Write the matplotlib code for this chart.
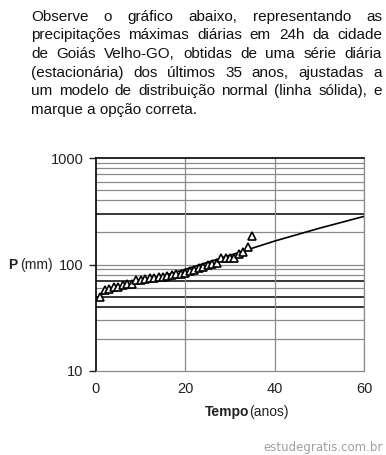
import matplotlib
matplotlib.use("Agg")
import matplotlib.pyplot as plt

plt.rcParams["font.family"] = ["Liberation Sans", "DejaVu Sans"]

# statement text (one entry per printed line)
text_lines = [
    "Observe o gráfico abaixo, representando as",
    "precipitações máximas diárias em 24h da cidade",
    "de Goiás Velho-GO, obtidas de uma série diária",
    "(estacionária) dos últimos 35 anos, ajustadas a",
    "um modelo de distribuição normal (linha sólida), e",
    "marque a opção correta.",
]

# observed maxima (triangles)
years = list(range(1, 36))
precip = [50, 58, 59, 61, 62, 64, 65, 66, 71, 72,
          73, 74, 75, 76, 77, 78, 80, 81, 82, 84,
          86, 89, 92, 95, 98, 101, 104, 114, 115, 115,
          116, 125, 132, 147, 185]

# fitted normal model (solid line)
fit_t = [1, 10, 20, 30, 40, 50, 60]
fit_p = [52, 68, 90, 122, 166, 219, 283]

y_ticks = [10, 100, 1000]
x_ticks = [0, 20, 40, 60]
grid_gray = [20, 30, 60, 80, 90, 100, 200, 400, 500, 600, 700, 800, 900]
grid_black = [40, 50, 70, 300]

W, H = 386, 455
fig = plt.figure(figsize=(W / 100, H / 100), dpi=100)
ax = fig.add_axes([96 / W, 1 - 371 / H, (364 - 96) / W, (371 - 158) / H])

ax.set_yscale("log")
ax.set_xlim(0, 60)
ax.set_ylim(10, 1000)

for v in grid_gray:
    ax.axhline(v, color="#8a8a8a", lw=0.9, zorder=1)
for v in grid_black:
    ax.axhline(v, color="black", lw=1.1, zorder=1)
for v in x_ticks[1:]:
    ax.axvline(v, color="#8a8a8a", lw=0.9, zorder=1)

ax.plot(fit_t, fit_p, color="black", lw=1.2, zorder=2)
ax.plot(years, precip, ls="none", marker="^", ms=6, mfc="white",
        mec="black", mew=1.2, zorder=3)

for s in ("bottom", "right"):
    ax.spines[s].set_color("#8a8a8a")
    ax.spines[s].set_linewidth(0.9)
ax.spines["left"].set_linewidth(1.2)
ax.spines["top"].set_linewidth(1.2)

ax.set_yticks(y_ticks)
ax.set_yticklabels([str(v) for v in y_ticks])
ax.yaxis.set_minor_locator(matplotlib.ticker.NullLocator())
ax.tick_params(axis="y", direction="out", length=5, width=1, pad=4,
               labelsize=10.5, colors="#222222")
ax.set_xticks(x_ticks)
ax.tick_params(axis="x", length=0, pad=8, labelsize=10.5, colors="#222222")

# axis titles (bold symbol + plain unit)
fig.text(8 / W, 1 - 269 / H, "P", fontsize=10, fontweight="bold", color="#222222")
fig.text(20 / W, 1 - 269 / H, "(mm)", fontsize=10, color="#222222")
fig.text(205 / W, 1 - 416 / H, "Tempo", fontsize=10, fontweight="bold", color="#222222")
fig.text(249 / W, 1 - 416 / H, "(anos)", fontsize=10, color="#222222")

fig.text(383 / W, 1 - 451 / H, "estudegratis.com.br", fontsize=8.5,
         color="#a0a0a0", ha="right", family="DejaVu Sans")

# justified paragraph; last line stays left-aligned as one string
fs = 11
renderer = fig.canvas.get_renderer()
left_px, right_px = 31, 382
base0, step = 20.7, 18.6
for i, line in enumerate(text_lines):
    y = 1 - (base0 + i * step) / H
    if i == len(text_lines) - 1:
        fig.text(left_px / W, y, line, fontsize=fs, color="#111111", va="baseline")
        continue
    words = line.split(" ")
    objs = [fig.text(0, y, w, fontsize=fs, color="#111111", va="baseline")
            for w in words]
    widths = [o.get_window_extent(renderer).width for o in objs]
    gap = (right_px - left_px - sum(widths)) / (len(words) - 1)
    x = left_px
    for o, w in zip(objs, widths):
        o.set_x(x / W)
        x += w + gap

fig.savefig("out.png", dpi=100)
